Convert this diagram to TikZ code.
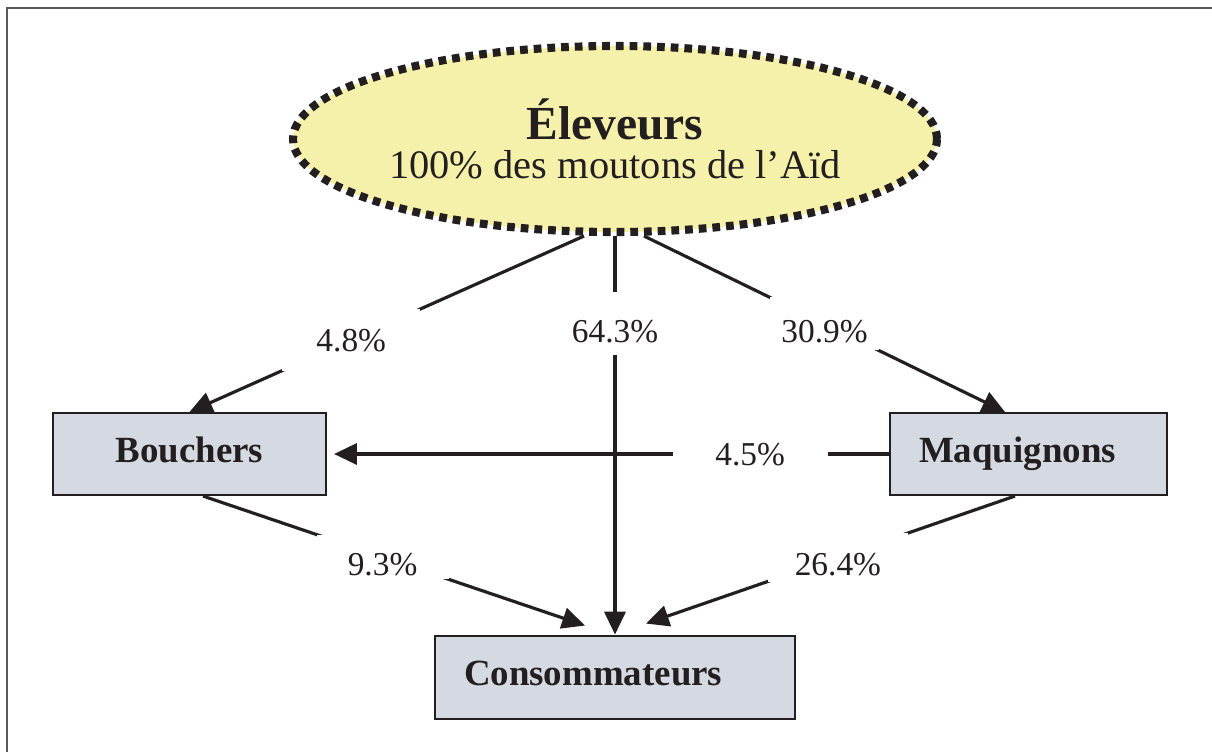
\documentclass[tikz,border=0pt]{standalone}
\usepackage{fontspec}
\setmainfont{Liberation Serif}
\usepackage{xcolor}
\usepackage{tikz}
\usetikzlibrary{shapes.geometric,arrows.meta,positioning}

\definecolor{ink}{RGB}{35,31,32}
\definecolor{herdfill}{RGB}{246,241,170}
\definecolor{boxfill}{RGB}{213,217,225}

\begin{document}
\begin{tikzpicture}[
    herd/.style={ellipse, draw=ink, fill=herdfill, line width=4.6pt, dash pattern=on 4.4pt off 3.4pt, minimum width=12.88cm, minimum height=3.72cm, inner sep=0pt, align=center, text=ink, font=\fontsize{23}{22.5}\selectfont},
    box/.style={rectangle, draw=ink, fill=boxfill, line width=1.2pt, minimum height=1.64cm, text height=15pt, text depth=5pt, text=ink, font=\bfseries\fontsize{21}{24}\selectfont},
    pct/.style={fill=white, inner sep=0pt, text height=13pt, text depth=0pt, text=ink, font=\fontsize{19}{22}\selectfont},
    lower/.style={text height=21pt},
    arrow/.style={-{Triangle[length=13pt,width=12pt]}, line width=1.8pt, draw=ink},
    frameline/.style={draw=black!65, line width=1.1pt}
]
\useasboundingbox (0,0) rectangle (24.24,-15.04);
\draw[frameline] (0.14,-15.04) -- (0.14,-0.16) -- (24.24,-0.16);

\node[herd] (eleveurs) at (12.3,-2.78) {{\bfseries\fontsize{27}{30}\selectfont Éleveurs}\\100\% des moutons de l’Aïd};
\node[box, minimum width=5.46cm] (bouchers) at (3.79,-9.08) {Bouchers};
\node[box, text width=4.38cm, align=left, inner xsep=0.58cm] (maquignons) at (20.57,-9.08) {Maquignons};
\node[box, below=7.97cm of eleveurs, minimum height=1.66cm, text width=6.04cm, align=left, inner xsep=0.58cm] (consommateurs) {Consommateurs};

\draw[arrow] ([xshift=-0.62cm]eleveurs.south) -- node[pct, pos=0.59, minimum width=2.76cm, minimum height=1.24cm] (p48) {4.8\%} (bouchers.north);
\draw[arrow] (eleveurs.south) -- node[pct, lower, pos=0.22, minimum width=1.8cm, minimum height=1.26cm] (p643) {64.3\%} (consommateurs.north);
\draw[arrow] ([xshift=0.58cm]eleveurs.south) -- node[pct, lower, pos=0.5, minimum width=2.18cm, minimum height=1.06cm] (p309) {30.9\%} ([xshift=-0.47cm]maquignons.north);
\draw[arrow] (maquignons.west) -- node[pct, pos=0.25, minimum width=3.1cm, minimum height=0.9cm] (p45) {4.5\%} ([xshift=0.14cm]bouchers.east);
\draw[arrow] ([xshift=0.27cm]bouchers.south) -- node[pct, lower, pos=0.47, minimum width=2.64cm, minimum height=0.88cm] (p93) {9.3\%} ([xshift=-0.6cm,yshift=0.18cm]consommateurs.north);
\draw[arrow] ([xshift=-0.27cm]maquignons.south) -- node[pct, lower, pos=0.48, minimum width=2.8cm, minimum height=0.98cm] (p264) {26.4\%} ([xshift=0.62cm,yshift=0.22cm]consommateurs.north);
\end{tikzpicture}
\end{document}
